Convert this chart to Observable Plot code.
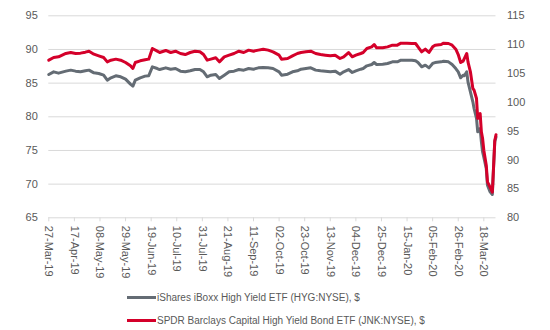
<!DOCTYPE html>
<html><head><meta charset="utf-8">
<script src="https://cdn.jsdelivr.net/npm/d3@7"></script>
<script src="https://cdn.jsdelivr.net/npm/@observablehq/plot@0.6"></script>
<style>
body{margin:0;background:#fff;font-family:"Liberation Sans",Arial,sans-serif;}
#legend{padding-left:127px;padding-top:3.5px;font-size:10px;color:#595959}
.item{display:flex;align-items:center;height:23px;white-space:nowrap}
.sw{width:29px;height:3px;margin-right:1px}
</style></head><body>
<div id="chart"></div>
<div id="legend"></div>
<script>
const dates = [
"2019-03-27","2019-03-31","2019-04-04","2019-04-10","2019-04-14","2019-04-18","2019-04-22","2019-04-26","2019-04-29",
"2019-05-03","2019-05-07","2019-05-11","2019-05-14","2019-05-17","2019-05-21","2019-05-25","2019-05-29",
"2019-06-02","2019-06-04","2019-06-06","2019-06-10","2019-06-14","2019-06-17","2019-06-20","2019-06-24","2019-06-26",
"2019-07-01","2019-07-05","2019-07-09","2019-07-13","2019-07-17","2019-07-21","2019-07-25","2019-07-29",
"2019-08-01","2019-08-04","2019-08-07","2019-08-11","2019-08-14","2019-08-18","2019-08-22","2019-08-26","2019-08-30",
"2019-09-03","2019-09-07","2019-09-11","2019-09-15","2019-09-19","2019-09-23","2019-09-27",
"2019-10-02","2019-10-04","2019-10-09","2019-10-13","2019-10-17","2019-10-20","2019-10-24","2019-10-28",
"2019-11-01","2019-11-05","2019-11-09","2019-11-13","2019-11-17","2019-11-21","2019-11-24","2019-11-28",
"2019-12-01","2019-12-04","2019-12-08","2019-12-10","2019-12-13","2019-12-17","2019-12-19","2019-12-21","2019-12-26","2019-12-30",
"2020-01-03","2020-01-07","2020-01-10","2020-01-15","2020-01-19","2020-01-22","2020-01-24","2020-01-27","2020-01-30",
"2020-02-02","2020-02-05","2020-02-07","2020-02-12","2020-02-14","2020-02-18","2020-02-21","2020-02-24","2020-02-26","2020-02-28",
"2020-03-01","2020-03-02","2020-03-04","2020-03-05","2020-03-07","2020-03-09","2020-03-10","2020-03-12","2020-03-13","2020-03-15",
"2020-03-16","2020-03-17","2020-03-18","2020-03-20","2020-03-21","2020-03-23","2020-03-25","2020-03-26","2020-03-27","2020-03-28"
];
const hyg = [
86.28,86.68,86.48,86.78,86.93,86.78,86.68,86.83,86.93,
86.53,86.43,86.18,85.44,85.79,86.09,85.94,85.59,
84.85,84.55,85.44,85.79,86.04,86.09,87.42,87.17,87.02,
87.27,87.07,87.17,86.78,86.68,86.83,87.02,87.02,
86.68,85.94,86.18,86.28,85.69,86.18,86.68,86.78,87.02,
86.93,87.17,87.07,87.27,87.32,87.27,87.17,
86.68,86.18,86.33,86.68,86.83,87.07,87.17,87.27,
86.93,86.83,86.78,86.68,86.78,86.33,86.68,87.02,
86.58,86.83,87.07,87.17,87.57,87.77,88.06,87.77,87.82,87.92,
88.16,88.16,88.41,88.41,88.41,88.31,88.06,87.42,87.67,
87.27,87.92,88.06,88.16,88.26,88.16,87.77,87.17,86.68,85.79,
86.18,86.09,86.68,85.19,83.71,82.22,81.23,79.75,77.77,78.26,
76.28,74.80,74.00,72.32,69.85,68.90,68.46,72.50,76.30,77.00
];
const jnk = [
107.31,107.77,107.89,108.47,108.64,108.47,108.53,108.70,108.87,
108.35,108.06,107.77,107.02,107.31,107.49,107.31,106.91,
106.33,105.87,106.91,107.20,107.37,107.49,109.33,108.87,108.64,
108.99,108.64,108.87,108.47,108.29,108.64,108.87,108.76,
108.29,107.31,107.49,107.72,107.02,107.89,108.18,108.47,108.87,
108.64,109.05,108.87,109.05,109.22,109.05,108.76,
108.18,107.49,107.60,108.06,108.47,108.64,108.76,108.87,
108.47,108.29,108.18,108.06,108.18,107.60,107.89,108.64,
107.89,108.18,108.47,108.64,109.33,109.62,110.03,109.45,109.45,109.62,
109.91,109.91,110.26,110.26,110.20,110.20,109.62,108.76,109.22,
108.64,109.62,109.91,110.03,110.26,110.20,109.91,109.22,108.29,106.91,
107.14,107.60,108.47,107.02,105.29,102.40,102.12,100.67,97.21,98.07,
94.90,93.74,91.72,89.12,86.23,85.37,84.45,88.80,93.40,94.40
];
const leftTicks = [65, 70, 75, 80, 85, 90, 95];
const rightTicks = [80, 85, 90, 95, 100, 105, 110, 115];
const xTicks = ["2019-03-27","2019-04-17","2019-05-08","2019-05-29","2019-06-19","2019-07-10","2019-07-31","2019-08-21","2019-09-11",
"2019-10-02","2019-10-23","2019-11-13","2019-12-04","2019-12-25","2020-01-15","2020-02-05","2020-02-26","2020-03-18"];
const seriesNames = ["iShares iBoxx High Yield ETF (HYG:NYSE), $", "SPDR Barclays Capital High Yield Bond ETF (JNK:NYSE), $"];

const colors = ["#646c74", "#d4002a"];
const parse = d3.utcParse("%Y-%m-%d");
const toLeft = v => 65 + (v - 80) * 30 / 35;
const fromLeft = v => 80 + (v - 65) * 35 / 30;
const rows = dates.map((d, i) => ({date: parse(d), hyg: hyg[i], jnk: jnk[i]}));

const chart = Plot.plot({
  width: 550, height: 282,
  marginLeft: 48.3, marginRight: 54.5, marginTop: 15.3, marginBottom: 64.7,
  style: {fontFamily: "'Liberation Sans', Arial, sans-serif", fontSize: "11px", color: "#595959", background: "#fff"},
  x: {type: "utc", domain: [parse("2019-03-27"), parse("2020-03-28")]},
  y: {domain: [65, 95]},
  marks: [
    Plot.gridY(leftTicks, {stroke: "#d9d9d9", strokeOpacity: 1}),
    Plot.axisY(leftTicks, {anchor: "left", tickSize: 0, tickPadding: 11, label: null, fill: "#595959"}),
    Plot.axisY(rightTicks.map(toLeft), {anchor: "right", tickSize: 0, tickPadding: 11, label: null, fill: "#595959",
      tickFormat: v => String(Math.round(fromLeft(v)))}),
    Plot.axisX(xTicks.map(parse), {tickRotate: 90, tickFormat: d3.utcFormat("%d-%b-%y"), tickSize: 4, tickPadding: 4,
      stroke: "#d9d9d9", fill: "#595959", label: null}),
    Plot.line(rows, {x: "date", y: "hyg", stroke: colors[0], strokeWidth: 3}),
    Plot.line(rows, {x: "date", y: d => toLeft(d.jnk), stroke: colors[1], strokeWidth: 3})
  ]
});
document.getElementById("chart").appendChild(chart);

const legend = document.getElementById("legend");
seriesNames.forEach((name, i) => {
  const item = document.createElement("div");
  item.className = "item";
  const sw = document.createElement("span");
  sw.className = "sw";
  sw.style.background = colors[i];
  const label = document.createElement("span");
  label.textContent = name;
  item.appendChild(sw);
  item.appendChild(label);
  legend.appendChild(item);
});
</script>
</body></html>
